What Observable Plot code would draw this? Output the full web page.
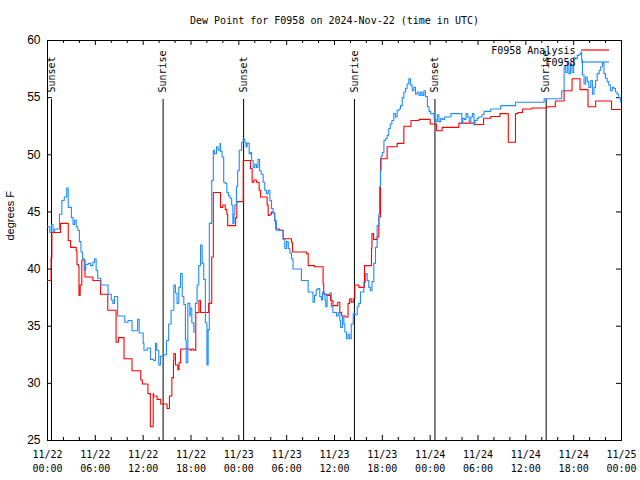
<!DOCTYPE html>
<html>
<head>
<meta charset="utf-8">
<script src="https://cdn.jsdelivr.net/npm/d3@7"></script>
<script src="https://cdn.jsdelivr.net/npm/@observablehq/plot@0.6"></script>
<style>
  html, body { margin: 0; padding: 0; background: white; }
</style>
</head>
<body>
<div id="chart"></div>
<script>
// ---- Data (hours after 2024-11-22 00:00 UTC, dew point in °F) ----
const titleText = "Dew Point for F0958 on 2024-Nov-22 (time in UTC)";
const yLabel = "degrees F";
const seriesNames = ["F0958 Analysis", "F0958"];

const analysisHours = [0,0.45,0.55,1.63,2.6,2.9,3.6,3.7,3.9,3.95,4.1,4.3,4.7,5.7,6.65,7.56,8.6,8.9,9.6,10.6,11.7,11.9,12.6,12.9,13.26,13.3,13.75,14.2,15.0,15.3,15.6,15.8,15.85,16.05,16.35,16.5,16.7,17.9,18.1,18.35,18.6,19.0,19.2,20.2,20.6,20.8,21.7,22.0,22.3,22.5,22.6,23.6,23.75,24.55,25.46,25.67,25.88,26.2,26.55,26.72,27.55,27.68,27.9,28.1,28.3,28.5,28.64,29.1,29.56,30.6,30.73,32.5,32.7,33.5,34.57,34.65,35.0,35.5,35.8,36.4,36.67,36.9,37.38,37.7,37.9,38.1,38.35,38.55,39.05,39.76,40.64,40.7,40.9,41.35,41.56,41.77,42.6,43.86,44.7,45.6,46.6,48.0,48.8,49.5,51.6,53.6,54.7,55.6,56.75,57.8,58.7,59.0,59.6,60.75,62.6,63.7,64.8,65.8,66.8,67.8,68.75,70.75,72];
const analysisValues = [39.0,41.0,43.2,44.0,42.5,41.9,41.6,40.4,40.2,37.7,38.6,40.8,39.3,39.0,37.8,36.4,33.6,34.0,32.15,31.1,30.3,29.95,29.1,26.2,29.1,28.9,28.6,28.2,27.8,28.9,30.5,32.0,32.6,31.6,31.2,31.8,33.0,32.9,33.0,32.9,36.2,37.25,36.2,37.0,41.05,46.7,45.4,45.6,45.2,44.8,43.8,44.5,45.9,49.5,48.8,47.6,47.8,47.6,46.9,46.3,45.6,44.7,44.8,45.0,44.9,44.25,43.5,43.4,42.65,42.35,41.5,41.35,40.3,40.2,38.7,37.8,37.7,37.25,36.8,37.1,36.2,35.9,35.8,37.0,37.4,37.1,37.4,38.6,38.4,40.3,41.8,43.1,42.6,42.8,44.55,49.65,50.7,51.0,52.5,53.0,53.1,52.7,52.1,52.4,52.77,52.65,53.2,53.35,53.6,51.1,53.6,53.7,54.0,54.1,54.2,54.7,55.6,56.65,55.7,54.2,54.7,53.96,53.96];

const obsHours = [0,0.3,0.5,0.7,0.9,1.5,1.8,2.1,2.4,2.6,3.0,3.2,3.4,3.6,3.8,4.0,4.2,4.4,4.6,4.8,5.1,5.4,5.7,5.9,6.1,6.3,6.7,7.6,8.0,8.2,8.4,8.8,9.7,10.1,10.6,11.1,11.3,11.5,12.0,12.1,12.5,12.92,13.3,13.55,13.7,13.96,14.17,14.6,14.92,15.2,15.5,15.85,16.05,16.25,16.47,16.68,16.9,17.1,17.3,17.4,17.6,17.85,17.9,18.1,18.35,18.55,18.76,18.97,19.2,19.4,19.6,19.8,20.0,20.15,20.3,20.6,20.8,20.95,21.2,21.4,21.65,21.7,21.9,22.1,22.3,22.5,22.7,22.9,23.1,23.25,23.4,23.5,23.7,23.85,24.05,24.35,24.55,24.75,24.9,25.05,25.3,25.46,25.6,25.8,26.0,26.2,26.4,26.6,26.8,27.05,27.25,27.47,27.68,27.9,28.1,28.3,28.5,28.7,29.56,29.77,29.98,30.2,30.4,30.6,30.8,31.85,32.7,33.3,33.5,33.7,33.9,34.15,34.36,34.5,34.65,34.8,34.9,35.07,35.4,35.6,35.8,36.25,36.46,36.67,36.75,37.0,37.17,37.3,37.5,37.7,37.9,38.1,38.35,38.55,38.85,39.05,39.26,39.68,39.9,40.1,40.3,40.5,40.7,40.93,41.14,41.35,41.56,41.64,41.77,41.85,42.0,42.2,42.4,42.6,42.8,43.0,43.2,43.44,43.65,43.86,44.1,44.28,44.5,44.7,44.9,45.1,45.32,45.53,45.74,45.95,46.16,46.37,46.6,46.8,47.0,47.2,47.4,47.65,47.86,48.07,48.5,48.7,48.9,49.1,49.33,49.5,49.8,50.6,51.93,51.97,52.1,52.3,52.5,52.7,52.9,53.1,53.3,53.5,53.6,53.9,54.1,54.5,54.76,55.6,56.85,58.7,60.6,62.3,64.5,64.8,65.0,65.2,65.4,65.6,65.8,66.0,66.2,66.45,66.7,66.9,67.0,67.1,67.3,67.5,67.7,67.9,68.15,68.35,68.55,68.75,68.95,69.2,69.4,69.6,69.8,70.0,70.2,70.4,70.6,70.85,71.05,71.25,71.45,71.65,71.9,72];
const obsValues = [43.7,43.2,43.9,43.3,43.5,44.8,46.0,46.3,47.1,45.4,44.5,43.9,44.3,43.7,43.4,42.4,41.5,40.9,39.9,40.4,40.5,40.3,40.6,40.9,39.9,39.2,38.6,37.8,37.3,37.0,37.6,35.9,35.35,35.5,34.6,34.6,35.6,34.4,33.5,32.9,33.1,32.1,32.0,33.5,32.9,31.6,32.4,32.5,33.75,35.2,36.4,38.6,37.9,37.0,38.4,39.6,37.6,36.9,33.8,31.8,37.0,35.9,36.6,35.3,34.5,37.0,38.6,40.3,42.1,40.5,39.1,35.3,31.6,34.7,44.0,47.75,50.4,50.1,50.7,50.4,51.0,50.3,49.8,47.6,47.5,46.7,46.4,46.2,45.6,44.0,44.8,45.6,47.2,48.6,50.4,51.1,51.4,51.1,50.7,51.0,50.1,50.2,49.5,48.9,49.2,48.9,49.6,48.6,48.3,47.6,46.9,46.6,46.9,46.0,45.3,44.9,44.2,43.4,42.6,41.8,42.4,41.8,41.4,40.9,40.0,39.0,38.0,37.1,37.7,38.2,38.3,37.6,37.3,38.0,37.9,37.3,36.7,37.8,37.9,36.7,36.2,35.9,36.2,35.5,34.9,35.8,35.2,34.5,33.9,34.3,33.9,35.2,36.1,36.0,36.7,37.0,38.0,38.85,39.6,39.0,38.4,38.1,38.9,40.5,41.9,43.8,44.8,47.2,48.6,49.9,50.2,51.25,51.4,51.7,52.3,52.7,53.0,53.6,53.3,53.9,54.0,54.3,55.0,55.5,55.8,56.2,56.65,56.1,55.6,55.9,55.3,55.5,55.2,55.5,55.2,55.6,55.1,54.2,53.8,53.6,53.1,52.9,53.5,52.9,53.2,53.1,53.3,53.6,53.6,52.77,53.2,53.1,53.6,53.3,52.9,53.3,53.6,52.6,53.0,53.2,53.3,53.5,53.8,54.0,54.3,54.6,54.6,54.9,55.6,57.7,57.2,58.2,57.1,57.9,57.2,58.5,58.4,58.7,58.8,59.0,58.3,57.0,56.2,56.8,56.4,55.9,56.5,55.3,55.9,56.5,57.1,57.4,57.7,58.0,57.1,56.7,56.4,56.1,55.6,55.9,55.8,55.5,55.3,55.0,54.6,54.6];

const sunHours = [0.5, 14.5, 24.6, 38.5, 48.6, 62.55];
const sunLabels = ["Sunset", "Sunrise", "Sunset", "Sunrise", "Sunset", "Sunrise"];

const yTicks = [25, 30, 35, 40, 45, 50, 55, 60];
const majorTickHours = [0, 6, 12, 18, 24, 30, 36, 42, 48, 54, 60, 66, 72];
const minorTickHours = [2, 4, 8, 10, 14, 16, 20, 22, 26, 28, 32, 34, 38, 40, 44, 46, 50, 52, 56, 58, 62, 64, 68, 70];

// ---- Build tables ----
const T0 = Date.UTC(2024, 10, 22);
const toDate = h => new Date(T0 + h * 3600000);
const analysis = analysisHours.map((h, i) => ({t: toDate(h), v: analysisValues[i]}));
const obs = obsHours.map((h, i) => ({t: toDate(h), v: obsValues[i]}));
const sun = sunHours.map((h, i) => ({t: toDate(h), label: sunLabels[i]}));
const majorTicks = majorTickHours.map(toDate);
const minorTicks = minorTickHours.map(toDate);

const RED = "#ff0000";
const BLUE = "#1e8cff";
const MONO = "'DejaVu Sans Mono', monospace";
const SANS = "'Liberation Sans', Arial, sans-serif";

const fmtDate = d3.utcFormat("%m/%d");
const fmtTime = d3.utcFormat("%H:%M");

// legend swatches (layout only)
function legendSwatches(index, scales, values, dims) {
  const g = d3.create("svg:g");
  const x2 = dims.width - dims.marginRight - 12;
  const x1 = x2 - 28;
  [[RED, 10], [BLUE, 22]].forEach(([c, dy]) => {
    g.append("line")
      .attr("x1", x1).attr("x2", x2)
      .attr("y1", dims.marginTop + dy).attr("y2", dims.marginTop + dy)
      .attr("stroke", c).attr("stroke-width", 1.2);
  });
  return g.node();
}

const chart = Plot.plot({
  width: 640,
  height: 480,
  marginLeft: 47,
  marginRight: 19,
  marginTop: 40,
  marginBottom: 40,
  style: {background: "white", color: "black", fontFamily: MONO, fontSize: "10px"},
  x: {type: "utc", domain: [toDate(0), toDate(72)], label: null},
  y: {domain: [25, 60], label: null},
  marks: [
    Plot.frame({stroke: "black", strokeWidth: 1}),
    Plot.axisX({ticks: majorTicks, tickSize: 0, tickPadding: 8, label: null,
      tickFormat: d => `${fmtDate(d)}\n${fmtTime(d)}`, fontFamily: MONO, fontSize: 10, lineHeight: 1.4}),
    Plot.axisY({ticks: yTicks, tickSize: 0, tickPadding: 7, label: null,
      fontFamily: SANS, fontSize: 12}),
    // inward ticks
    Plot.ruleX(majorTicks, {x: d => d, insetTop: 395, stroke: "black"}),
    Plot.ruleX(majorTicks, {x: d => d, insetBottom: 395, stroke: "black"}),
    Plot.ruleX(minorTicks, {x: d => d, insetTop: 397, stroke: "black"}),
    Plot.ruleX(minorTicks, {x: d => d, insetBottom: 397, stroke: "black"}),
    Plot.ruleY(yTicks, {y: d => d, insetRight: 569, stroke: "black"}),
    Plot.ruleY(yTicks, {y: d => d, insetLeft: 569, stroke: "black"}),
    // sunrise / sunset
    Plot.ruleX(sun, {x: "t", insetTop: 59, stroke: "black", strokeWidth: 1}),
    Plot.text(sun, {x: "t", text: "label", frameAnchor: "top", dy: 52, rotate: -90,
      textAnchor: "start", lineAnchor: "middle", fontFamily: MONO, fontSize: 10, fill: "black"}),
    // data
    Plot.line(analysis, {x: "t", y: "v", stroke: RED, strokeWidth: 1.1, curve: "step-after", clip: true}),
    Plot.line(obs, {x: "t", y: "v", stroke: BLUE, strokeWidth: 1.1, curve: "step-after", clip: true}),
    // legend
    Plot.text([seriesNames[0]], {text: d => d, frameAnchor: "top-right", dx: -46, dy: 10,
      textAnchor: "end", lineAnchor: "middle", fontFamily: MONO, fontSize: 10, fill: "black"}),
    Plot.text([seriesNames[1]], {text: d => d, frameAnchor: "top-right", dx: -46, dy: 22,
      textAnchor: "end", lineAnchor: "middle", fontFamily: MONO, fontSize: 10, fill: "black"}),
    legendSwatches,
    // title and y label
    Plot.text([titleText], {text: d => d, frameAnchor: "top", dy: -20, lineAnchor: "middle",
      fontFamily: MONO, fontSize: 10, fill: "black"}),
    Plot.text([yLabel], {text: d => d, frameAnchor: "left", dx: -37, rotate: -90,
      lineAnchor: "middle", fontFamily: SANS, fontSize: 11, fill: "black"})
  ]
});
document.getElementById("chart").appendChild(chart);
</script>
</body>
</html>
